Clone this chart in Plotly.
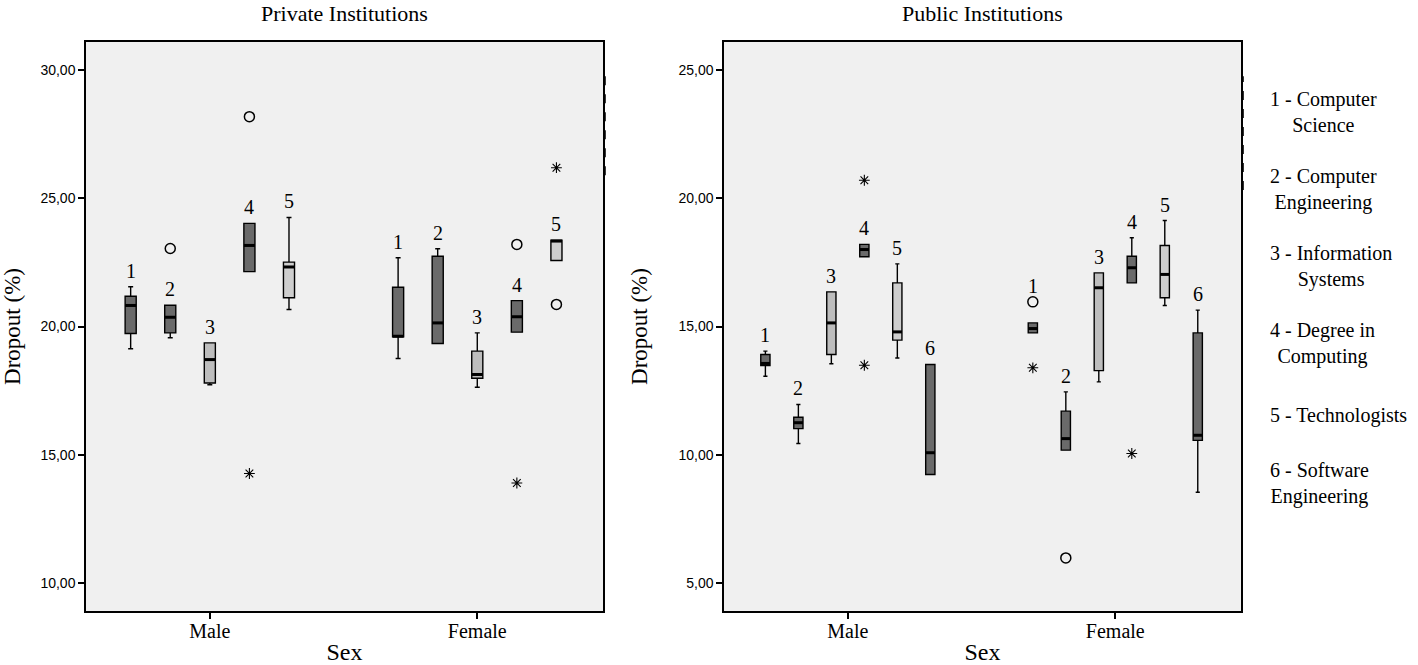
"""Dropout boxplots by sex and program, private vs public institutions"""
import plotly.graph_objects as go
from plotly.subplots import make_subplots

SEXES = ["Male", "Female"]
PROGRAM_IDS = ["1", "2", "3", "4", "5", "6"]
PROGRAM_NAMES = [
    "1 - Computer<br>Science",
    "2 - Computer<br>Engineering",
    "3 - Information<br>Systems",
    "4 - Degree in<br>Computing",
    "5 - Technologists",
    "6 - Software<br>Engineering",
]
Y_TICKS_PRIV = [10, 15, 20, 25, 30]
Y_TICKS_PUB = [5, 10, 15, 20, 25]

# Private institutions, programs 1-5, [male, female]
PRIV_LO = [[19.13, 19.56, 17.73, 22.14, 20.66], [18.75, 19.34, 17.63, 19.78, 22.57]]
PRIV_Q1 = [[19.73, 19.75, 17.80, 22.14, 21.12], [19.60, 19.34, 17.98, 19.78, 22.57]]
PRIV_MED = [[20.82, 20.36, 18.71, 23.16, 22.32], [19.62, 20.14, 18.13, 20.38, 23.33]]
PRIV_Q3 = [[21.18, 20.83, 19.36, 24.02, 22.51], [21.53, 22.74, 19.04, 21.01, 23.36]]
PRIV_HI = [[21.55, 20.83, 19.36, 24.02, 24.25], [22.68, 23.03, 19.75, 21.01, 23.36]]
# (sex index, program index, value, kind) - "o" outlier, "*" extreme
PRIV_OUTLIERS = [
    (0, 1, 23.04, "o"), (0, 3, 28.18, "o"), (0, 3, 14.27, "*"),
    (1, 3, 23.20, "o"), (1, 3, 13.90, "*"), (1, 4, 26.19, "*"), (1, 4, 20.86, "o"),
]

# Public institutions, programs 1-6, [male, female]
PUB_LO = [[13.06, 10.44, 13.55, 17.72, 13.77, 9.23], [14.75, 10.18, 12.84, 16.70, 15.82, 8.54]]
PUB_Q1 = [[13.48, 11.02, 13.91, 17.72, 14.47, 9.23], [14.75, 10.18, 13.28, 16.70, 16.12, 10.56]]
PUB_MED = [[13.56, 11.25, 15.14, 18.00, 14.79, 10.08], [14.92, 10.63, 16.51, 17.29, 17.03, 10.76]]
PUB_Q3 = [[13.91, 11.46, 16.35, 18.20, 16.70, 13.52], [15.14, 11.70, 17.09, 17.74, 18.16, 14.75]]
PUB_HI = [[14.04, 11.96, 16.35, 18.20, 17.44, 13.52], [15.14, 12.45, 17.09, 18.46, 19.13, 15.64]]
PUB_OUTLIERS = [
    (0, 3, 20.70, "*"), (0, 3, 13.49, "*"),
    (1, 0, 15.96, "o"), (1, 0, 13.39, "*"), (1, 1, 5.98, "o"), (1, 3, 10.05, "*"),
]

FILLS = ["#6a6a6a", "#6a6a6a", "#bdbdbd", "#6a6a6a", "#cecece", "#6a6a6a"]
SERIF = "Liberation Serif, Times New Roman, serif"
SANS = "Liberation Sans, Arial, sans-serif"
GROUP_WIDTH = 0.74
BOX_FRAC = 0.28


def add_panel(fig, col, lo, q1, med, q3, hi, outliers):
    n = len(lo[0])
    slot = GROUP_WIDTH / n
    width = slot * BOX_FRAC
    offs = [(k - (n - 1) / 2) * slot for k in range(n)]
    xref, yref = ("x", "y") if col == 1 else ("x2", "y2")

    med_x, med_y = [], []
    for k in range(n):
        xs = [s + offs[k] for s in range(len(SEXES))]
        fig.add_trace(
            go.Box(
                x=xs,
                lowerfence=[lo[0][k], lo[1][k]],
                q1=[q1[0][k], q1[1][k]],
                median=[med[0][k], med[1][k]],
                q3=[q3[0][k], q3[1][k]],
                upperfence=[hi[0][k], hi[1][k]],
                width=width,
                whiskerwidth=0.45,
                fillcolor=FILLS[k],
                line={"color": "black", "width": 1.4},
                boxpoints=False,
                showlegend=False,
                name=PROGRAM_IDS[k],
            ),
            row=1, col=col,
        )
        for s in range(len(SEXES)):
            med_x += [xs[s] - width / 2, xs[s] + width / 2, None]
            med_y += [med[s][k], med[s][k], None]
            # number label above the whisker (or a close outlier)
            anchor = hi[s][k]
            for o_s, o_k, val, _ in outliers:
                if o_s == s and o_k == k and 0 < val - anchor < 1.0:
                    anchor = val
            fig.add_annotation(
                x=xs[s], y=anchor, xref=xref, yref=yref,
                text=PROGRAM_IDS[k], showarrow=False, yanchor="bottom",
                yshift=3, font={"family": SERIF, "size": 20, "color": "black"},
            )

    # thick median bars
    fig.add_trace(
        go.Scatter(x=med_x, y=med_y, mode="lines", line={"color": "black", "width": 3},
                   showlegend=False, hoverinfo="skip"),
        row=1, col=col,
    )

    for kind, symbol, size, lw in (("o", "circle-open", 10, 1.5), ("*", "asterisk-open", 9, 1.1)):
        pts = [o for o in outliers if o[3] == kind]
        fig.add_trace(
            go.Scatter(
                x=[s + offs[k] for s, k, _, _ in pts],
                y=[v for _, _, v, _ in pts],
                mode="markers",
                marker={"symbol": symbol, "size": size,
                        "line": {"color": "black", "width": lw}, "color": "black"},
                showlegend=False,
                hoverinfo="y",
            ),
            row=1, col=col,
        )


fig = make_subplots(rows=1, cols=2, horizontal_spacing=0.1048)
add_panel(fig, 1, PRIV_LO, PRIV_Q1, PRIV_MED, PRIV_Q3, PRIV_HI, PRIV_OUTLIERS)
add_panel(fig, 2, PUB_LO, PUB_Q1, PUB_MED, PUB_Q3, PUB_HI, PUB_OUTLIERS)

axis_common = dict(
    showline=True, linecolor="black", linewidth=1.5, mirror=True,
    ticks="outside", ticklen=6, tickwidth=1.5, tickcolor="black",
    showgrid=False, zeroline=False, automargin=False,
)
fig.update_xaxes(
    **axis_common, range=[-0.463, 1.47], tickvals=[0, 1], ticktext=SEXES,
    ticklabelstandoff=-5,
    tickfont={"family": SERIF, "size": 20, "color": "black"},
    title={"text": "Sex", "font": {"family": SERIF, "size": 24, "color": "black"},
           "standoff": 7},
)
fig.update_yaxes(
    **axis_common, title={"text": "Dropout (%)",
                          "font": {"family": SERIF, "size": 23, "color": "black"},
                          "standoff": 24},
    tickfont={"family": SANS, "size": 14, "color": "black"},
)
fig.update_yaxes(range=[8.91, 31.09], tickvals=Y_TICKS_PRIV,
                 ticktext=[f"{v:.2f}".replace(".", ",") for v in Y_TICKS_PRIV], row=1, col=1)
fig.update_yaxes(range=[3.91, 26.09], tickvals=Y_TICKS_PUB,
                 ticktext=[f"{v:.2f}".replace(".", ",") for v in Y_TICKS_PUB], row=1, col=2)

# panel titles
for xd, title in ((0.2238, "Private Institutions"), (0.7762, "Public Institutions")):
    fig.add_annotation(x=xd, y=1, xref="paper", yref="paper", text=title,
                       showarrow=False, xanchor="center", yanchor="bottom", yshift=14,
                       font={"family": SERIF, "size": 22, "color": "black"})

# leftover legend marks on the right frame edges
for xr, yr, y0 in (("x domain", "y domain", 0.766), ("x2 domain", "y2 domain", 0.74)):
    fig.add_shape(type="line", xref=xr, yref=yr, x0=1.003, x1=1.003, y0=y0, y1=0.94,
                  line={"color": "black", "width": 2.5, "dash": "dash"})

# program key on the right
legend_px = [112, 189, 266, 343, 416, 483]
for name, ypx in zip(PROGRAM_NAMES, legend_px):
    fig.add_annotation(x=(1268 - 86) / 1155, y=(611 - ypx) / 569, xref="paper", yref="paper",
                       text=name, showarrow=False, xanchor="left", yanchor="middle",
                       align="center", font={"family": SERIF, "size": 20, "color": "black"})

fig.update_layout(
    width=1418, height=665,
    margin={"l": 86, "r": 177, "t": 42, "b": 54},
    paper_bgcolor="white", plot_bgcolor="#f0f0f0",
)

# drop the default page margin so the figure sits at the window's corner
fig.write_html(
    "out.html",
    config={"displayModeBar": False},
    post_script="document.body.style.margin='0';document.body.style.overflow='hidden';",
)
